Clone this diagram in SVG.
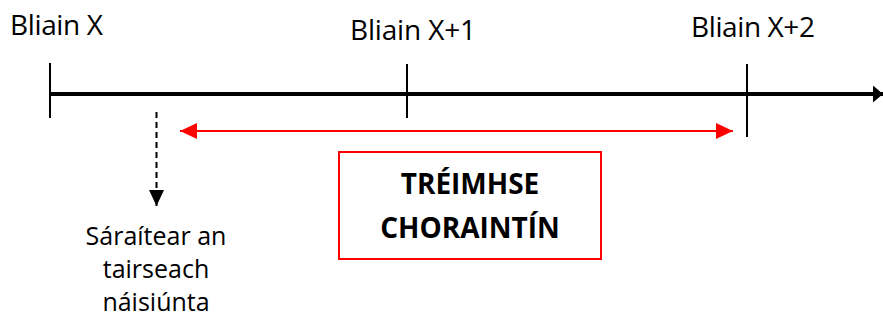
<svg xmlns="http://www.w3.org/2000/svg" width="883" height="320" viewBox="0 0 883 320">
<style>
text{font-family:"Open Sans","Noto Sans","Liberation Sans",sans-serif;fill:#000}
.lbl{font-size:28px}
.sm{font-size:25px;text-anchor:middle}
.bold{font-size:28px;font-weight:bold;text-anchor:middle}
.tick{stroke:#000;stroke-width:2;fill:none}
</style>
<defs>
<marker id="blk" viewBox="0 0 10 17" refX="10" refY="8.5" markerWidth="10" markerHeight="17" markerUnits="userSpaceOnUse" orient="auto"><path d="M0,0L10,8.5L0,17z" fill="#000"/></marker>
<marker id="red" viewBox="0 0 17 16" refX="17" refY="8" markerWidth="17" markerHeight="16" markerUnits="userSpaceOnUse" orient="auto-start-reverse"><path d="M0,0L17,8L0,16z" fill="#ff0000"/></marker>
<marker id="dsh" viewBox="0 0 16 15" refX="16" refY="7.5" markerWidth="16" markerHeight="15" markerUnits="userSpaceOnUse" orient="auto"><path d="M0,0L16,7.5L0,15z" fill="#000"/></marker>
</defs>
<g id="connectors">
<line x1="50" y1="94" x2="883" y2="94" stroke="#000" stroke-width="4" marker-end="url(#blk)"/>
<line class="tick" x1="50" y1="63" x2="50" y2="118"/>
<line class="tick" x1="407" y1="64" x2="407" y2="118"/>
<line class="tick" x1="747" y1="64" x2="747" y2="137"/>
<line x1="180" y1="131" x2="733" y2="131" stroke="#ff0000" stroke-width="2" marker-start="url(#red)" marker-end="url(#red)"/>
<line x1="156.5" y1="112" x2="156.5" y2="206" stroke="#000" stroke-width="2" stroke-dasharray="6,4" marker-end="url(#dsh)"/>
</g>
<g id="label-x"><text class="lbl" x="10" y="35" textLength="93">Bliain X</text></g>
<g id="label-x1"><text class="lbl" x="350" y="40" textLength="126">Bliain X+1</text></g>
<g id="label-x2"><text class="lbl" x="691" y="37" textLength="124">Bliain X+2</text></g>
<g id="threshold">
<text class="sm" x="156" y="245">Sáraítear an</text>
<text class="sm" x="156" y="278">tairseach</text>
<text class="sm" x="156" y="311">náisiúnta</text>
</g>
<g id="period">
<rect x="339" y="152" width="262" height="107" fill="#fff" stroke="#ff0000" stroke-width="2"/>
<text class="bold" x="470" y="194">TRÉIMHSE</text>
<text class="bold" x="470" y="238">CHORAINTÍN</text>
</g>
</svg>
